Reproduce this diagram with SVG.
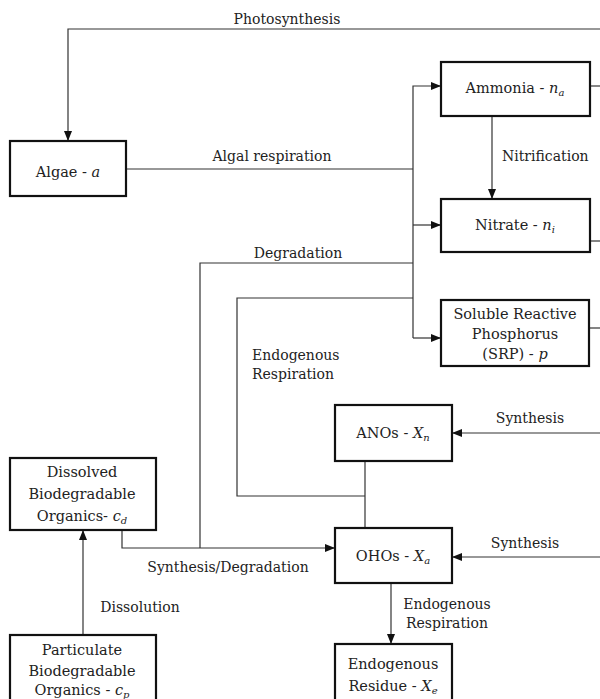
<svg xmlns="http://www.w3.org/2000/svg" width="600" height="699" viewBox="0 0 600 699">
<defs>
<marker id="ah" markerWidth="10" markerHeight="8" refX="9" refY="4" orient="auto" markerUnits="userSpaceOnUse">
<path d="M0,0 L10,4 L0,8 z" fill="#111"/>
</marker>
<style>
.box{fill:#fff;stroke:#111;stroke-width:2.2}
.ln{fill:none;stroke:#333;stroke-width:1.2}
text{font-family:"DejaVu Serif","Liberation Serif",serif;font-size:14px;fill:#222}
.b{font-size:14.5px}
.c{text-anchor:middle}
.i{font-style:italic}
.s{font-style:italic;font-size:10px}
</style>
</defs>
<rect width="600" height="699" fill="#fff"/>
<g id="connectors">
<path class="ln" d="M600,29 H68 V140" marker-end="url(#ah)"/>
<path class="ln" d="M126,169 H413"/>
<path class="ln" d="M413,338 V86 H440" marker-end="url(#ah)"/>
<path class="ln" d="M413,225 H440" marker-end="url(#ah)"/>
<path class="ln" d="M413,338 H440" marker-end="url(#ah)"/>
<path class="ln" d="M590,86 H600"/>
<path class="ln" d="M590,241 H600"/>
<path class="ln" d="M590,328 H600"/>
<path class="ln" d="M492,116 V198" marker-end="url(#ah)"/>
<path class="ln" d="M413,263 H200 V548"/>
<path class="ln" d="M413,298 H237 V496 H365"/>
<path class="ln" d="M365,461 V528"/>
<path class="ln" d="M600,433 H453" marker-end="url(#ah)"/>
<path class="ln" d="M600,557 H453" marker-end="url(#ah)"/>
<path class="ln" d="M122,530 V548 H334" marker-end="url(#ah)"/>
<path class="ln" d="M83,635 V531" marker-end="url(#ah)"/>
<path class="ln" d="M391,583 V643" marker-end="url(#ah)"/>
<text class="c" x="287" y="24">Photosynthesis</text>
<text class="c" x="272" y="161">Algal respiration</text>
<text x="502" y="161">Nitrification</text>
<text class="c" x="298" y="258">Degradation</text>
<text x="252" y="360">Endogenous</text>
<text x="252" y="379">Respiration</text>
<text class="c" x="530" y="423">Synthesis</text>
<text class="c" x="525" y="548">Synthesis</text>
<text class="c" x="228" y="572">Synthesis/Degradation</text>
<text class="c" x="140" y="612">Dissolution</text>
<text class="c" x="447" y="609">Endogenous</text>
<text class="c" x="447" y="628">Respiration</text>
</g>
<g id="algae">
<rect class="box" x="10" y="141" width="116" height="55"/>
<text class="c b" x="68" y="177">Algae - <tspan class="i">a</tspan></text>
</g>
<g id="ammonia">
<rect class="box" x="441" y="62" width="149" height="54"/>
<text class="c b" x="515" y="93">Ammonia - <tspan class="i">n</tspan><tspan class="s" dy="3">a</tspan></text>
</g>
<g id="nitrate">
<rect class="box" x="441" y="199" width="149" height="53"/>
<text class="c b" x="515" y="230">Nitrate - <tspan class="i">n</tspan><tspan class="s" dy="3">i</tspan></text>
</g>
<g id="srp">
<rect class="box" x="441" y="300" width="148" height="66"/>
<text class="c b" x="515" y="319">Soluble Reactive</text>
<text class="c b" x="515" y="339">Phosphorus</text>
<text class="c b" x="515" y="359">(SRP) - <tspan class="i">p</tspan></text>
</g>
<g id="anos">
<rect class="box" x="335" y="405" width="117" height="56"/>
<text class="c b" x="393" y="438">ANOs - <tspan class="i">X</tspan><tspan class="s" dy="3">n</tspan></text>
</g>
<g id="ohos">
<rect class="box" x="335" y="528" width="117" height="55"/>
<text class="c b" x="393" y="561">OHOs - <tspan class="i">X</tspan><tspan class="s" dy="3">a</tspan></text>
</g>
<g id="dissolved">
<rect class="box" x="10" y="458" width="146" height="72"/>
<text class="c b" x="82" y="477">Dissolved</text>
<text class="c b" x="82" y="499">Biodegradable</text>
<text class="c b" x="82" y="521">Organics- <tspan class="i">c</tspan><tspan class="s" dy="3">d</tspan></text>
</g>
<g id="particulate">
<rect class="box" x="10" y="635" width="146" height="70"/>
<text class="c b" x="82" y="655">Particulate</text>
<text class="c b" x="82" y="676">Biodegradable</text>
<text class="c b" x="82" y="695">Organics - <tspan class="i">c</tspan><tspan class="s" dy="3">p</tspan></text>
</g>
<g id="residue">
<rect class="box" x="335" y="644" width="117" height="61"/>
<text class="c b" x="393" y="669">Endogenous</text>
<text class="c b" x="393" y="691">Residue - <tspan class="i">X</tspan><tspan class="s" dy="3">e</tspan></text>
</g>
</svg>
